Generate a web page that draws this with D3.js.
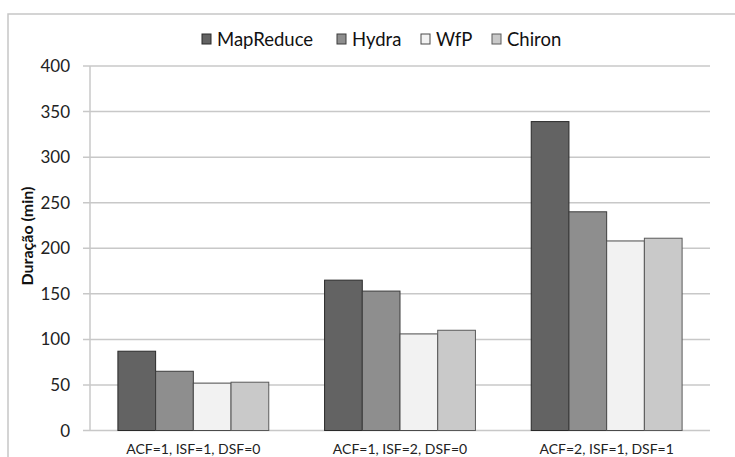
<!DOCTYPE html>
<html><head><meta charset="utf-8">
<script src="https://cdn.jsdelivr.net/npm/d3@7"></script>
<style>body{margin:0;background:#fff}svg{display:block}</style>
</head><body>
<script>
const categories = ["ACF=1, ISF=1, DSF=0", "ACF=1, ISF=2, DSF=0", "ACF=2, ISF=1, DSF=1"];
const seriesNames = ["MapReduce", "Hydra", "WfP", "Chiron"];
const mapReduce = [87, 165, 339];
const hydra = [65, 153, 240];
const wfp = [52, 106, 208];
const chiron = [53, 110, 211];
const yTicks = [0, 50, 100, 150, 200, 250, 300, 350, 400];
const colors = ["#636363", "#8e8e8e", "#f2f2f2", "#c9c9c9"];
const strokes = ["#2a2a2a", "#3c3c3c", "#4a4a4a", "#5a5a5a"];
const seriesValues = [mapReduce, hydra, wfp, chiron];

(function () {
const W = 735, H = 457;
const svg = d3.select("body").append("svg").attr("width", W).attr("height", H);
const font = "Lato, 'Open Sans', sans-serif";

// chart border
svg.append("rect").attr("x", 8).attr("y", 14).attr("width", W + 10).attr("height", H + 10)
  .attr("fill", "none").attr("stroke", "#c6c6c6").attr("stroke-width", 1.5);

const pLeft = 90, pRight = 710, pTop = 66, pBottom = 430.5;
const x0 = d3.scaleBand().domain(categories).range([pLeft, pRight]).paddingInner(0.27).paddingOuter(0.135);
const x1 = d3.scaleBand().domain(seriesNames).range([0, x0.bandwidth()]).padding(0);
const y = d3.scaleLinear().domain([0, 400]).range([pBottom, pTop]);

// gridlines
svg.append("g").selectAll("line").data(yTicks).join("line")
  .attr("x1", 83).attr("x2", pRight).attr("y1", d => y(d)).attr("y2", d => y(d))
  .attr("stroke", "#c8c8c8").attr("stroke-width", 1.5);
// vertical axis line
svg.append("line").attr("x1", pLeft).attr("x2", pLeft).attr("y1", pTop).attr("y2", pBottom)
  .attr("stroke", "#c8c8c8").attr("stroke-width", 1.5);

// y axis labels
svg.append("g").selectAll("text").data(yTicks).join("text")
  .attr("x", 70).attr("y", d => y(d)).attr("dy", "0.36em").attr("text-anchor", "end")
  .attr("font-family", font).attr("font-size", 17).attr("fill", "#222").text(d => d);

// y title
svg.append("text").attr("transform", `translate(33,${236}) rotate(-90)`)
  .attr("text-anchor", "middle").attr("font-family", font).attr("font-weight", "bold")
  .attr("font-size", 16).attr("fill", "#111").text("Duração (min)");

// bars
const groups = svg.append("g").selectAll("g").data(categories).join("g")
  .attr("transform", d => `translate(${x0(d)},0)`);
groups.selectAll("rect").data((c, ci) => seriesNames.map((s, si) => ({s, si, v: seriesValues[si][ci]})))
  .join("rect")
  .attr("x", d => x1(d.s)).attr("width", x1.bandwidth())
  .attr("y", d => y(d.v)).attr("height", d => pBottom - y(d.v))
  .attr("fill", d => colors[d.si]).attr("stroke", d => strokes[d.si]).attr("stroke-width", 1);

// x labels
svg.append("g").selectAll("text").data(categories).join("text")
  .attr("x", d => x0(d) + x0.bandwidth() / 2).attr("y", 454)
  .attr("text-anchor", "middle").attr("font-family", font).attr("font-size", 14)
  .attr("fill", "#222").text(d => d);

// legend
const legendX = [202, 337, 421, 492];
const lg = svg.append("g").selectAll("g").data(seriesNames).join("g")
  .attr("transform", (d, i) => `translate(${legendX[i]},0)`);
lg.append("rect").attr("x", 0).attr("y", 34).attr("width", 9).attr("height", 10)
  .attr("fill", (d, i) => colors[i]).attr("stroke", (d, i) => strokes[i]).attr("stroke-width", 1);
lg.append("text").attr("x", 15).attr("y", 45.5).attr("font-family", font).attr("font-size", 18.5)
  .attr("fill", "#111").text(d => d);
})();
</script>
</body></html>
